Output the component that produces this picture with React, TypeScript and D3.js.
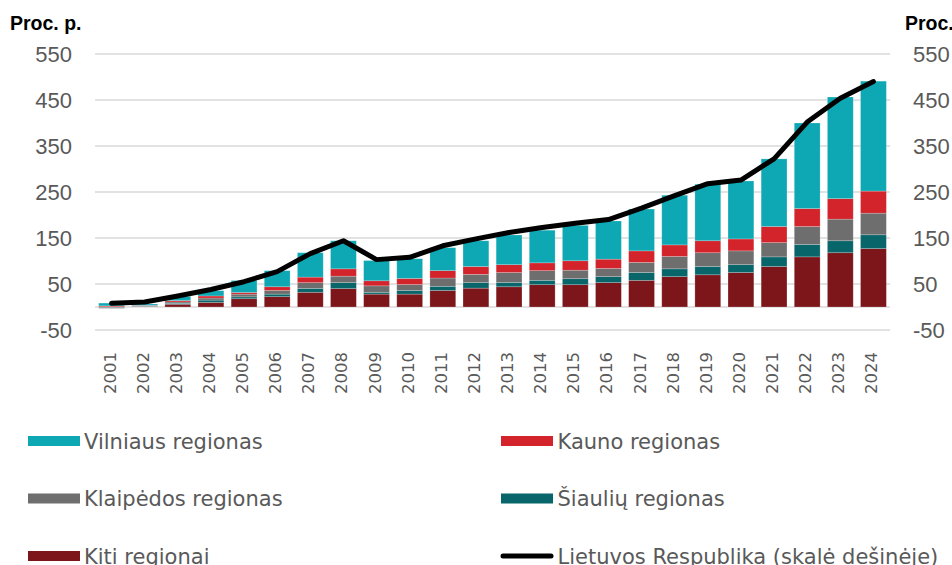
import React from 'react';
import * as d3 from 'd3';

const years = ['2001','2002','2003','2004','2005','2006','2007','2008','2009','2010','2011','2012','2013','2014','2015','2016','2017','2018','2019','2020','2021','2022','2023','2024'];
const kiti = [0.5, 1, 6, 10, 18, 22.5, 32, 40, 28, 28, 36, 41, 44, 48.5, 48.5, 53, 58, 66, 70, 75, 88, 109, 118, 127];
const siauliu = [-1, 0.5, 2, 5, 4, 5.5, 8.5, 13, 4, 8, 9, 12, 9.5, 9.5, 13, 13, 17, 17, 18, 17, 21, 27, 26, 30];
const klaipedos = [-2, 1, 3, 4.5, 6, 8, 12.5, 14, 14, 13, 18, 18, 21.5, 21, 18.5, 18, 22, 27, 30, 30, 31, 39, 47, 47];
const kauno = [2, 1, 3, 4.5, 3.5, 8, 12, 16, 11, 13, 16, 17, 17, 17, 20.5, 20, 25, 25, 26, 26, 35, 39, 44.5, 48];
const vilniaus = [6, 3, 9, 11.5, 26, 35, 53, 61, 44, 43, 50, 56, 64.5, 71, 77, 83, 91, 108, 123, 126, 147, 186, 221, 239];
const lietuva = [8, 11, 24, 38, 55, 77, 116, 144, 103, 108, 133, 148, 162, 173, 182, 190, 215, 242, 268, 276, 322, 402, 454, 490];
const yTicks = [-50, 50, 150, 250, 350, 450, 550];

const seriesKeys = ['kiti', 'siauliu', 'klaipedos', 'kauno', 'vilniaus'];
const seriesLabels: Record<string, string> = {
  vilniaus: 'Vilniaus regionas',
  kauno: 'Kauno regionas',
  klaipedos: 'Klaipėdos regionas',
  siauliu: 'Šiaulių regionas',
  kiti: 'Kiti regionai',
};
const colors: Record<string, string> = {
  vilniaus: '#0ea8b4',
  kauno: '#d3232b',
  klaipedos: '#6e6e6e',
  siauliu: '#08666b',
  kiti: '#7c161a',
};
const lineLabel = 'Lietuvos Respublika (skalė dešinėje)';
const axisTitle = 'Proc. p.';

export default function App() {
  const W = 952, H = 565;
  const x = d3.scaleBand<string>().domain(years).range([95, 890]).paddingInner(0.22).paddingOuter(0.11);
  const y = d3.scaleLinear().domain([-50, 550]).range([330, 54]);

  const table = years.map((yr, i) => ({
    year: yr,
    kiti: kiti[i], siauliu: siauliu[i], klaipedos: klaipedos[i], kauno: kauno[i], vilniaus: vilniaus[i],
  }));
  const stacked = d3.stack<any>().keys(seriesKeys).offset(d3.stackOffsetDiverging)(table);

  const line = d3.line<number>()
    .x((_, i) => (x(years[i]) as number) + x.bandwidth() / 2)
    .y(d => y(d));

  const tickFont = '"Liberation Sans", Arial, sans-serif';
  const textFont = '"DejaVu Sans", Verdana, sans-serif';
  const gray = '#595959';

  const legendCol1 = ['vilniaus', 'klaipedos', 'kiti'];
  const legendCol2 = ['kauno', 'siauliu'];
  const rowY = [441, 498.5, 556];

  return (
    <svg width={W} height={H} style={{ position: 'absolute', left: 0, top: 0, display: 'block', background: '#fff' }}>
      {/* gridlines */}
      {yTicks.map(t => (
        <line key={'g' + t} x1={95} x2={890} y1={y(t)} y2={y(t)} stroke="#d9d9d9" strokeWidth={1.5} />
      ))}
      <line x1={95} x2={890} y1={y(0)} y2={y(0)} stroke="#d9d9d9" strokeWidth={1.5} />

      {/* bars */}
      {stacked.map(s => (
        <g key={s.key} fill={colors[s.key]}>
          {s.map((d, i) => {
            const y0 = y(d[0]), y1 = y(d[1]);
            return (
              <rect key={i} x={x(years[i])} width={x.bandwidth()} y={Math.min(y0, y1)} height={Math.abs(y0 - y1)}
                stroke="#ffffff" strokeOpacity={0.3} strokeWidth={0.7} />
            );
          })}
        </g>
      ))}

      {/* line */}
      <path d={line(lietuva) || ''} fill="none" stroke="#000" strokeWidth={5} strokeLinejoin="round" strokeLinecap="round" />

      {/* left axis labels */}
      {yTicks.map(t => (
        <text key={'l' + t} x={72} y={y(t)} dy="0.36em" textAnchor="end" fontFamily={tickFont} fontSize={22} fill={gray}>{t}</text>
      ))}
      {/* right axis labels */}
      {yTicks.map(t => (
        <text key={'r' + t} x={913} y={y(t)} dy="0.36em" textAnchor="start" fontFamily={tickFont} fontSize={22} fill={gray}>{t}</text>
      ))}

      <text x={10} y={30} fontFamily={tickFont} fontWeight="bold" fontSize={19.5} fill="#000">{axisTitle}</text>
      <text x={905} y={30} fontFamily={tickFont} fontWeight="bold" fontSize={19.5} fill="#000">{axisTitle}</text>

      {/* year labels */}
      {years.map(yr => {
        const cx = (x(yr) as number) + x.bandwidth() / 2 + 4;
        return (
          <text key={'y' + yr} transform={`translate(${cx},352) rotate(-90)`} textAnchor="end" fontFamily={textFont} fontSize={16.5} fill={gray}>{yr}</text>
        );
      })}

      {/* legend */}
      {legendCol1.map((k, i) => (
        <g key={'lg1' + k}>
          <rect x={28} y={rowY[i] - 5} width={52} height={10} fill={colors[k]} />
          <text x={84} y={rowY[i] + 7.5} fontFamily={textFont} fontSize={21} fill={gray}>{seriesLabels[k]}</text>
        </g>
      ))}
      {legendCol2.map((k, i) => (
        <g key={'lg2' + k}>
          <rect x={501} y={rowY[i] - 5} width={52} height={10} fill={colors[k]} />
          <text x={557.5} y={rowY[i] + 7.5} fontFamily={textFont} fontSize={21} fill={gray}>{seriesLabels[k]}</text>
        </g>
      ))}
      <line x1={503} x2={551} y1={rowY[2]} y2={rowY[2]} stroke="#000" strokeWidth={5} strokeLinecap="round" />
      <text x={557.5} y={rowY[2] + 7.5} fontFamily={textFont} fontSize={21} fill={gray}>{lineLabel}</text>
    </svg>
  );
}
